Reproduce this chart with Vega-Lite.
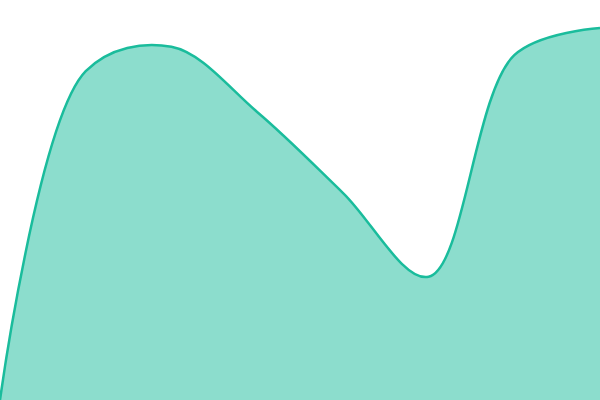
{
  "$schema": "https://vega.github.io/schema/vega-lite/v6.json",
  "description": "Smooth area chart without axes.",
  "width": 600,
  "height": 400,
  "autosize": "none",
  "padding": 0,
  "background": "white",
  "config": {"view": {"stroke": null}},
  "data": {
    "values": [
      {"step": 0, "value": 0},
      {"step": 1, "value": 82.2},
      {"step": 2, "value": 88.3},
      {"step": 3, "value": 72},
      {"step": 4, "value": 51.8},
      {"step": 5, "value": 30.8},
      {"step": 6, "value": 86.2},
      {"step": 7, "value": 93}
    ]
  },
  "mark": {
    "type": "area",
    "interpolate": "catmull-rom",
    "color": "#1abc9c",
    "fillOpacity": 0.5,
    "line": {"color": "#1abc9c", "strokeWidth": 2.5}
  },
  "encoding": {
    "x": {"field": "step", "type": "quantitative", "axis": null, "scale": {"domain": [0, 7], "nice": false}},
    "y": {"field": "value", "type": "quantitative", "axis": null, "scale": {"domain": [0, 100], "nice": false}}
  }
}
